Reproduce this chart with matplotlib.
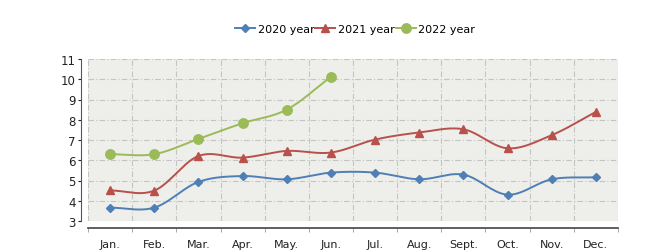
import numpy as np
import matplotlib
matplotlib.use("Agg")
from matplotlib import pyplot as plt
from matplotlib.lines import Line2D

months = ["Jan.", "Feb.", "Mar.", "Apr.", "May.", "Jun.",
          "Jul.", "Aug.", "Sept.", "Oct.", "Nov.", "Dec."]
y2020 = [3.66, 3.66, 4.93, 5.22, 5.06, 5.39, 5.39, 5.06, 5.29, 4.30, 5.06, 5.16]
y2021 = [4.51, 4.50, 6.21, 6.13, 6.46, 6.38, 7.02, 7.37, 7.53, 6.59, 7.24, 8.39]
y2022 = [6.30, 6.30, 7.05, 7.83, 8.50, 10.12]
labels = ["2020 year", "2021 year", "2022 year"]
yticks = [3, 4, 5, 6, 7, 8, 9, 10, 11]

colors = ["#4f7fb5", "#b8504c", "#9bbb59"]
markers = ["D", "^", "o"]
msizes = [4.2, 5.5, 6.8]


def smooth(ys, n=30):
    # catmull-rom style curve through the points
    ys = np.asarray(ys, float)
    xs = np.arange(len(ys), dtype=float)
    m = np.zeros_like(ys)
    m[1:-1] = (ys[2:] - ys[:-2]) / 2
    m[0] = ys[1] - ys[0]
    m[-1] = ys[-1] - ys[-2]
    out_x, out_y = [], []
    for i in range(len(ys) - 1):
        t = np.linspace(0, 1, n)
        h00 = 2 * t**3 - 3 * t**2 + 1
        h10 = t**3 - 2 * t**2 + t
        h01 = -2 * t**3 + 3 * t**2
        h11 = t**3 - t**2
        out_x.append(xs[i] + t)
        out_y.append(h00 * ys[i] + h10 * m[i] + h01 * ys[i + 1] + h11 * m[i + 1])
    return np.concatenate(out_x), np.concatenate(out_y)


fig = plt.figure(figsize=(6.7, 2.53), dpi=100)
ax = fig.add_axes([88 / 670, 1 - 222 / 253, 530 / 670, 162 / 253])
ax.set_facecolor("#eeeeea")

handles = []
for ys, c, mk, ms, lab in zip([y2020, y2021, y2022], colors, markers, msizes, labels):
    sx, sy = smooth(ys)
    ax.plot(sx, sy, color=c, lw=1.4, zorder=3)
    ax.plot(np.arange(len(ys)), ys, ls="none", marker=mk, ms=ms,
            color=c, mec=c, zorder=4)
    handles.append(Line2D([], [], color=c, lw=1.4, marker=mk, ms=ms, mec=c))

ax.set_xlim(-0.5, 11.5)
ax.set_ylim(3, 11)
ax.set_xticks(range(12))
ax.set_xticklabels(months)
ax.set_xticks(np.arange(-0.5, 12, 1), minor=True)
ax.set_yticks(yticks)

ax.grid(True, which="minor", axis="x", color="#c4c4c4", ls=(0, (5, 2, 1, 2)), lw=0.8)
ax.grid(True, which="major", axis="y", color="#c4c4c4", ls=(0, (5, 2, 1, 2)), lw=0.8)
ax.set_axisbelow(True)

for s in ["top", "right"]:
    ax.spines[s].set_visible(False)
ax.spines["left"].set_position(("outward", 5))
ax.spines["bottom"].set_position(("outward", 5))
ax.spines["left"].set_color("#555555")
ax.spines["bottom"].set_color("#444444")
ax.spines["bottom"].set_linewidth(1.2)

ax.tick_params(axis="x", which="major", length=0, pad=8, labelsize=8, colors="#222222")
ax.tick_params(axis="x", which="minor", length=3, color="#999999")
ax.tick_params(axis="y", length=2, pad=2, labelsize=8.5, colors="#222222")

fig.legend(handles=handles, labels=labels, loc="center", ncol=3,
           bbox_to_anchor=(355 / 670, 1 - 30 / 253), frameon=False,
           fontsize=8, handlelength=1.8, handletextpad=0.2, columnspacing=0.1)

fig.savefig("out.png", dpi=100)
